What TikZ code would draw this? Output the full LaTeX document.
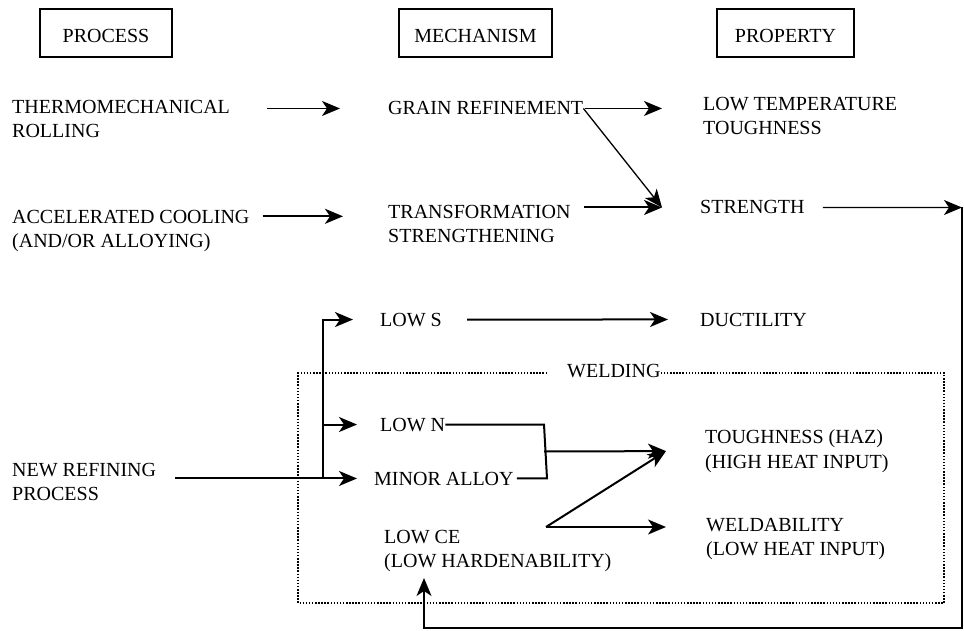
\documentclass[tikz,border=0pt]{standalone}
\usepackage{fontspec}
\setmainfont{Liberation Serif}
\usetikzlibrary{arrows.meta}
\begin{document}
\begin{tikzpicture}[x=1pt,y=-1pt,
  lbl/.style={inner sep=0pt, anchor=base west, font=\fontsize{20}{24.5}\selectfont},
  lbl2/.style={inner sep=0pt, anchor=north west, yshift=13.4pt, align=left, font=\fontsize{20}{24.5}\selectfont},
  head/.style={draw, line width=1.4pt, inner sep=0pt, anchor=base, text height=34pt, text depth=14pt, font=\fontsize{20}{24}\selectfont},
  tip/.style={-{Stealth[length=18pt,width=15pt,inset=5pt]}},
  wire/.style={line width=2pt},
  fine/.style={line width=1.3pt},
  weldbox/.style={line width=1.5pt, dash pattern=on 1.5pt off 1.6pt}
]
\useasboundingbox (0,0) rectangle (964,631);

% column headings
\node[head, minimum width=132pt] (hProc) at (106,43) {PROCESS};
\node[head, minimum width=153pt] (hMech) at (475.5,43) {MECHANISM};
\node[head, minimum width=137pt] (hProp) at (785.5,43) {PROPERTY};

% labels
\node[lbl2] (thermo) at (12,113) {THERMOMECHANICAL\\ROLLING};
\node[lbl] (grain) at (388,115) {GRAIN REFINEMENT};
\node[lbl2] (lowtemp) at (703,110) {LOW TEMPERATURE\\TOUGHNESS};
\node[lbl2] (accel) at (12,223) {ACCELERATED COOLING\\(AND/OR ALLOYING)};
\node[lbl2] (transf) at (388,218) {TRANSFORMATION\\STRENGTHENING};
\node[lbl] (strength) at (700,214) {STRENGTH};
\node[lbl] (lows) at (380,326) {LOW S};
\node[lbl] (duct) at (700,326) {DUCTILITY};
\node[lbl] (lown) at (380,431) {LOW N};
\node[lbl] (minor) at (374,485) {MINOR ALLOY};
\node[lbl2] (newref) at (12,476) {NEW REFINING\\PROCESS};
\node[lbl2] (lowce) at (384,543) {LOW CE\\(LOW HARDENABILITY)};
\node[lbl2] (tough) at (705,443) {TOUGHNESS (HAZ)\\(HIGH HEAT INPUT)};
\node[lbl2] (weld) at (706,531) {WELDABILITY\\(LOW HEAT INPUT)};
\node[lbl] (welding) at (567,377) {WELDING};

% welding frame, open to the left of its title
\coordinate (wL) at ([xshift=-20pt]welding.west);
\draw[weldbox] (wL |- 0,373) -- (298,373) -- (298,603) -- (944,603) -- (944,373) -- (welding.east |- 0,373);

% helper points
\coordinate (ac1) at ([yshift=-6.7pt]accel.north east);
\coordinate (sIn) at ([xshift=-38pt]strength.west);
\coordinate (tIn) at ([xshift=-39pt]tough.west);
\coordinate (fbR) at (962,207.5);
\coordinate (fbB) at (962,628);
\coordinate (fbL) at (424,628);
\coordinate (split) at ([xshift=-51pt]minor.west);
\coordinate (jn) at (544,451.5);
\coordinate (ce) at (546,527);

% process -> mechanism
\draw[fine, tip, shorten <=37pt, shorten >=48pt] (thermo.east |- grain.west) -- (grain.west);
\draw[wire, tip, shorten <=13pt, shorten >=45pt] (ac1) -- (ac1 -| transf.west);
\draw[wire, tip, shorten <=19pt, shorten >=17pt] (newref.east |- minor.west) -- (minor.west);
\draw[wire, tip, shorten >=27pt] (split) |- (lows.west);
\draw[wire, tip, shorten >=23pt] (split |- lown.west) -- (lown.west);

% mechanism -> property
\draw[fine, tip, shorten <=2pt, shorten >=41pt] (grain.east) -- (grain.east -| lowtemp.west);
\draw[fine, tip] (grain.east) -- (sIn);
\draw[wire, tip, shorten <=13pt] (transf.east |- sIn) -- (sIn);
\draw[wire, tip, shorten <=25pt, shorten >=32pt] (lows) -- (duct);
\draw[wire] (lown.east) -- (lown.east -| jn) -- ([xshift=3pt]minor.east -| jn) -- ([xshift=3pt]minor.east);
\draw[wire, tip] (jn) -- (tIn);
\draw[wire, tip] (ce) -- (tIn);
\draw[wire, tip, shorten >=40pt] (ce) -- (ce -| weld.west);

% strength feeds back into low CE
\draw[fine, tip, shorten <=18pt] (strength.east) -- (fbR);
\draw[wire, tip, shorten >=6pt] (fbR) -- (fbB) -- (fbL) -- (fbL |- lowce.south);
\end{tikzpicture}
\end{document}
